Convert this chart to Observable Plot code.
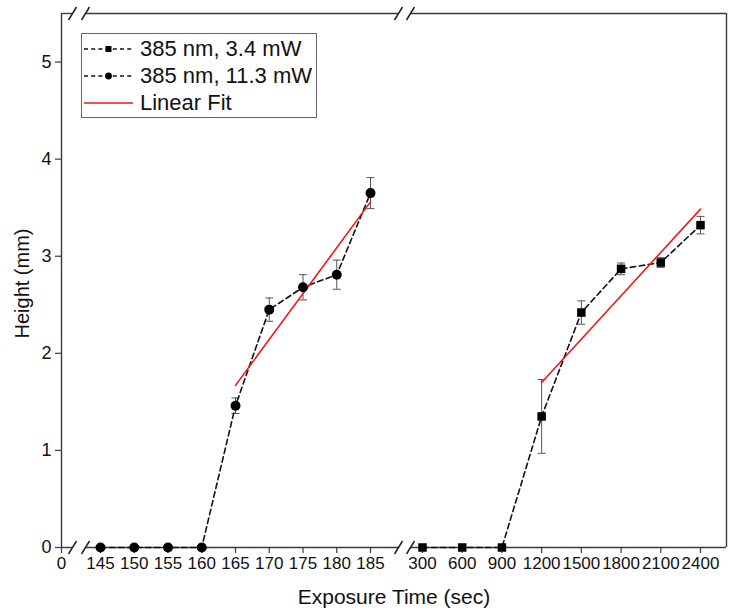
<!DOCTYPE html>
<html>
<head>
<meta charset="utf-8">
<script src="https://cdn.jsdelivr.net/npm/d3@7"></script>
<script src="https://cdn.jsdelivr.net/npm/@observablehq/plot@0.6"></script>
<style>
  body { margin: 0; background: #fff; }
  #wrap { position: relative; width: 730px; height: 613px; font-family: "Liberation Sans", Arial, sans-serif; }
  #legend { position: absolute; left: 81px; top: 33px; width: 234px; height: 83px; border: 1px solid #666; background: #fff; }
  .row { position: absolute; left: 0; height: 26px; display: flex; align-items: center; }
  .row svg { margin-left: 2px; }
  .row span { margin-left: 6px; font-size: 22px; color: #111; }
</style>
</head>
<body>
<div id="wrap"><div id="legend"></div></div>
<script>
// Exposure times (sec) and heights (mm) with error bars
const times113 = [145, 150, 155, 160, 165, 170, 175, 180, 185];
const height113 = [0, 0, 0, 0, 1.46, 2.45, 2.68, 2.81, 3.65];
const err113 = [0, 0, 0, 0, 0.08, 0.12, 0.13, 0.15, 0.16];

const times34 = [300, 600, 900, 1200, 1500, 1800, 2100, 2400];
const height34 = [0, 0, 0, 1.35, 2.42, 2.87, 2.935, 3.32];
const err34 = [0, 0, 0, 0.38, 0.12, 0.06, 0.05, 0.09];

// Linear fit end points
const fit113T = [165, 185];
const fit113H = [1.67, 3.56];
const fit34T = [1200, 2400];
const fit34H = [1.70, 3.485];

const xTicks = [0, 145, 150, 155, 160, 165, 170, 175, 180, 185, 300, 600, 900, 1200, 1500, 1800, 2100, 2400];
const yTicks = [0, 1, 2, 3, 4, 5];

const seriesNames = ["385 nm, 3.4 mW", "385 nm, 11.3 mW", "Linear Fit"];

// Broken x axis: three segments laid side by side on one continuous scale
function pos(t) {
  if (t < 100) return t;
  if (t < 250) return 39 + (t - 145) * 6.75;
  return 361 + (t - 300) * (278 / 2100);
}
const xMax = 665;
// break marks (pairs of slashes) between the segments
const breakPairs = [[11, 24], [337, 349]];

const W = 730, H = 613, mt = 13, mb = 66, ml = 61, mr = 4;
const yMax = 5.5;
const unitPx = (H - mt - mb) / yMax;

const rows = (ts, hs, es) => ts.map((t, i) => ({t, h: hs[i], e: es[i]}));
const s113 = rows(times113, height113, err113);
const s34 = rows(times34, height34, err34);
const fit113 = fit113T.map((t, i) => ({t, h: fit113H[i]}));
const fit34 = fit34T.map((t, i) => ({t, h: fit34H[i]}));
const withErr = [...s113, ...s34].filter(d => d.e > 0);

// axis line pieces, interrupted at the breaks
const pieces = [[0, breakPairs[0][0]], [breakPairs[0][1], breakPairs[1][0]], [breakPairs[1][1], xMax]];
const slashes = [];
for (const y of [0, yMax]) for (const pair of breakPairs) for (const c of pair) slashes.push({c, y});
const sx = 4, sy = 6.5 / unitPx;
const capW = 4;

const labelAt = new Map(xTicks.map(t => [pos(t), String(t)]));
const axisColor = "#3a3a3a";

const chart = Plot.plot({
  width: W, height: H,
  marginTop: mt, marginBottom: mb, marginLeft: ml, marginRight: mr,
  style: {fontFamily: "Liberation Sans, Arial, sans-serif", fontSize: "17px", color: "#111", background: "white"},
  x: {type: "linear", domain: [0, xMax], axis: null},
  y: {domain: [0, yMax], axis: null},
  marks: [
    Plot.axisX({ticks: xTicks.map(pos), tickFormat: v => labelAt.get(v), tickSize: 6, tickPadding: 3, label: null, stroke: axisColor, strokeWidth: 1.2, fontSize: 17}),
    Plot.axisY({ticks: yTicks, tickFormat: d3.format("d"), tickSize: 6, tickPadding: 4, label: null, stroke: axisColor, strokeWidth: 1.2, fontSize: 18}),
    Plot.ruleX([0, xMax], {stroke: axisColor, strokeWidth: 1.4}),
    Plot.ruleY(pieces, {y: 0, x1: d => d[0], x2: d => d[1], stroke: axisColor, strokeWidth: 1.4}),
    Plot.ruleY(pieces, {y: yMax, x1: d => d[0], x2: d => d[1], stroke: axisColor, strokeWidth: 1.4}),
    Plot.link(slashes, {x1: d => d.c - sx, y1: d => d.y - sy, x2: d => d.c + sx, y2: d => d.y + sy, stroke: "#222", strokeWidth: 1.5, clip: false}),
    Plot.text(["Exposure Time (sec)"], {frameAnchor: "bottom", lineAnchor: "middle", textAnchor: "middle", dy: 50, fontSize: 21, fill: "#111"}),
    Plot.text(["Height (mm)"], {frameAnchor: "left", textAnchor: "middle", lineAnchor: "middle", rotate: -90, dx: -39, dy: 3, fontSize: 20, fill: "#111"}),
    // error bars
    Plot.ruleX(withErr, {x: d => pos(d.t), y1: d => d.h - d.e, y2: d => d.h + d.e, stroke: "#555", strokeWidth: 1}),
    Plot.link(withErr, {x1: d => pos(d.t) - capW, x2: d => pos(d.t) + capW, y1: d => d.h + d.e, y2: d => d.h + d.e, stroke: "#555", strokeWidth: 1}),
    Plot.link(withErr, {x1: d => pos(d.t) - capW, x2: d => pos(d.t) + capW, y1: d => d.h - d.e, y2: d => d.h - d.e, stroke: "#555", strokeWidth: 1}),
    // measured series
    Plot.line(s113, {x: d => pos(d.t), y: "h", stroke: "#111", strokeWidth: 1.6, strokeDasharray: "5.5,3.5"}),
    Plot.line(s34, {x: d => pos(d.t), y: "h", stroke: "#111", strokeWidth: 1.6, strokeDasharray: "5.5,3.5"}),
    // linear fits
    Plot.line(fit113, {x: d => pos(d.t), y: "h", stroke: "#f01818", strokeWidth: 1.6}),
    Plot.line(fit34, {x: d => pos(d.t), y: "h", stroke: "#f01818", strokeWidth: 1.6}),
    Plot.dot(s113, {x: d => pos(d.t), y: "h", r: 5, fill: "#000", symbol: "circle"}),
    Plot.dot(s34, {x: d => pos(d.t), y: "h", r: 4.8, fill: "#000", symbol: "square"})
  ]
});
document.getElementById("wrap").prepend(chart);

// legend
const legend = document.getElementById("legend");
const kinds = ["square", "circle", "fit"];
seriesNames.forEach((name, i) => {
  const row = document.createElement("div");
  row.className = "row";
  row.style.top = (2 + i * 27) + "px";
  const k = kinds[i];
  let sample;
  if (k === "fit") {
    sample = `<line x1="0" y1="13" x2="49" y2="13" stroke="#f01818" stroke-width="1.5"/>`;
  } else {
    const m = k === "square"
      ? `<rect x="21.5" y="10" width="6" height="6" fill="#000"/>`
      : `<circle cx="24.5" cy="13" r="3.4" fill="#000"/>`;
    sample = `<line x1="0" y1="13" x2="49" y2="13" stroke="#111" stroke-width="1.4" stroke-dasharray="4,3.2"/>${m}`;
  }
  row.innerHTML = `<svg width="50" height="26">${sample}</svg><span>${name}</span>`;
  legend.appendChild(row);
});
</script>
</body>
</html>
